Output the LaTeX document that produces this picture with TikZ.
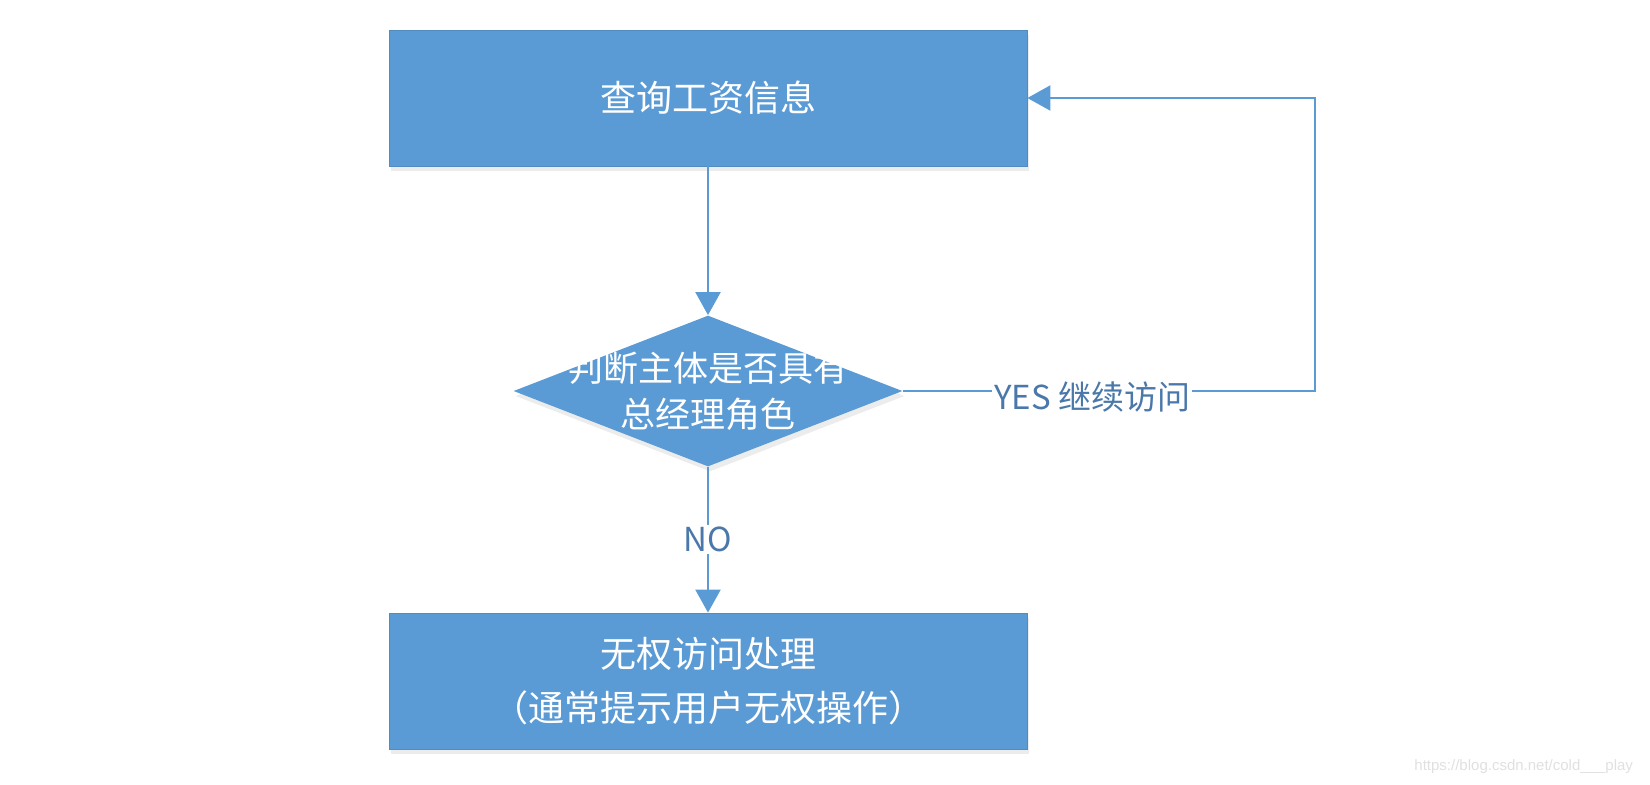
\documentclass[tikz,border=0pt]{standalone}
\usepackage{fontspec}
\setmainfont{Noto Sans CJK SC}
\newfontfamily\urlfont{Liberation Sans}
\usetikzlibrary{shapes.geometric,arrows.meta,shadows}
\definecolor{boxblue}{HTML}{5B9BD5}
\definecolor{labelblue}{HTML}{4A78AA}

\begin{document}
\begin{tikzpicture}[x=5pt,y=5pt,
		process/.style={rectangle,fill=boxblue,draw=boxblue!90!black,line width=0.4pt,
			minimum width=319pt,minimum height=68pt,text=white,align=center,
			font=\fontsize{18}{27}\selectfont,
			drop shadow={opacity=0.15,shadow xshift=1pt,shadow yshift=-2.5pt}},
		decision/.style={diamond,fill=boxblue,inner sep=0pt,
			minimum width=194.5pt,minimum height=75.5pt,
			drop shadow={opacity=0.15,shadow xshift=1pt,shadow yshift=-2.5pt}},
		flow/.style={draw=boxblue,line width=1.1pt,-{Triangle[length=11.5pt,width=12.5pt]}},
		edgelabel/.style={fill=white,text=labelblue,inner sep=1pt,font=\fontsize{16.5}{18}\selectfont}]
		\useasboundingbox (0,0) rectangle (165,-78.4);
		\node [process] (query) at (70.8,-9.8) {查询工资信息};
		\node [decision] (check) at (70.8,-39.1) {};
		\node [text=white,align=center,font=\fontsize{17.5}{23}\selectfont] (checktext) at (check) {判断主体是否具有\\总经理角色};
		\node [process] (deny) at (70.8,-68.1) {无权访问处理\\（通常提示用户无权操作）};
		\coordinate (loop) at (131.5,-39.1);
		\draw [flow] (query) -- (check);
		\draw [flow] (check.south) -- node [edgelabel] {NO} (deny);
		\draw [flow] (check.east) -- node [edgelabel,pos=0.46,yshift=-3pt] {YES 继续访问} (loop) |- (query.east);
		\node [anchor=east,text=black!12,font=\urlfont\fontsize{7.5}{9}\selectfont] (mark) at (164,-76.7) {https://blog.csdn.net/cold\_\_\_play};
	\end{tikzpicture}
\end{document}
